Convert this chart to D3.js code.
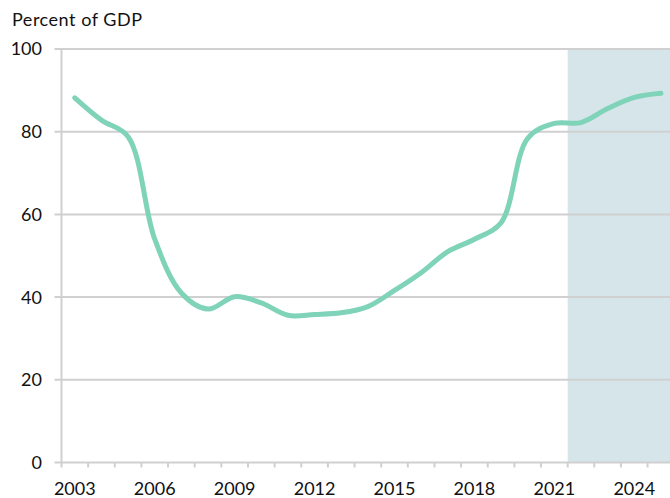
<!DOCTYPE html>
<html>
<head>
<meta charset="utf-8">
<script src="https://cdn.jsdelivr.net/npm/d3@7"></script>
<style>
  body { margin: 0; background: #fff; }
  text { font-family: Lato, "Open Sans", sans-serif; fill: #111; }
</style>
</head>
<body>
<div id="container"></div>
<script>
// annual values, percent of GDP
let years = d3.range(2003, 2026)
let values = [88.2, 82.8, 78.8, 54.0, 41.0, 37.1, 40.1, 38.6, 35.6, 35.8, 36.2, 37.7,
  41.6, 45.9, 51.0, 54.0, 58.0, 78.4, 82.0, 82.2, 85.6, 88.3, 89.3]
let labelYears = [2003, 2006, 2009, 2012, 2015, 2018, 2021, 2024]
let yTicks = [0, 20, 40, 60, 80, 100]
let forecastStart = 2022

let width = 670,
  height = 498

let plotLeft = 61.5, plotTop = 49, plotBottom = 462.5,
  band = 26.64

let svg = d3.select('#container')
  .append('svg')
  .attr('width', width)
  .attr('height', height)

let x = d3.scaleBand()
  .domain(years)
  .range([plotLeft, plotLeft + band * years.length])

let y = d3.scaleLinear()
  .domain([0, 100])
  .range([plotBottom, plotTop])

// forecast shading
svg.append('rect')
  .attr('x', x(forecastStart))
  .attr('y', y(100))
  .attr('width', width - x(forecastStart))
  .attr('height', y(0) - y(100))
  .attr('fill', '#d5e5ea')

// horizontal gridlines with small ticks on the left
svg.append('g')
  .selectAll('line')
  .data(yTicks)
  .join('line')
  .attr('x1', plotLeft - 7)
  .attr('x2', width)
  .attr('y1', d => y(d))
  .attr('y2', d => y(d))
  .attr('stroke', '#d0d0d0')
  .attr('stroke-width', 2)

// vertical axis line
svg.append('line')
  .attr('x1', plotLeft)
  .attr('x2', plotLeft)
  .attr('y1', y(100))
  .attr('y2', y(0))
  .attr('stroke', '#d0d0d0')
  .attr('stroke-width', 2)

// x tick marks between year bands
svg.append('g')
  .selectAll('line')
  .data(years)
  .join('line')
  .attr('x1', d => x(d))
  .attr('x2', d => x(d))
  .attr('y1', y(0))
  .attr('y2', y(0) + 5)
  .attr('stroke', '#d0d0d0')
  .attr('stroke-width', 2)

// y labels
svg.append('g')
  .selectAll('text')
  .data(yTicks)
  .join('text')
  .attr('x', 42)
  .attr('y', d => y(d))
  .attr('dy', '0.36em')
  .attr('text-anchor', 'end')
  .style('font-size', '18px')
  .text(d => d)

// x labels
svg.append('g')
  .selectAll('text')
  .data(labelYears)
  .join('text')
  .attr('x', d => x(d) + x.bandwidth() / 2)
  .attr('y', 495)
  .attr('text-anchor', 'middle')
  .style('font-size', '18px')
  .text(d => d)

// unit label
svg.append('text')
  .attr('x', 12)
  .attr('y', 26)
  .style('font-size', '18px')
  .attr('textLength', 130)
  .text('Percent of GDP')

// the series
let line = d3.line()
  .x((d, i) => x(years[i]) + x.bandwidth() / 2)
  .y(d => y(d))
  .curve(d3.curveCatmullRom.alpha(0.5))

svg.append('path')
  .datum(values)
  .attr('d', line)
  .attr('fill', 'none')
  .attr('stroke', '#7fd3b8')
  .attr('stroke-width', 5)
  .attr('stroke-linecap', 'round')
</script>
</body>
</html>
